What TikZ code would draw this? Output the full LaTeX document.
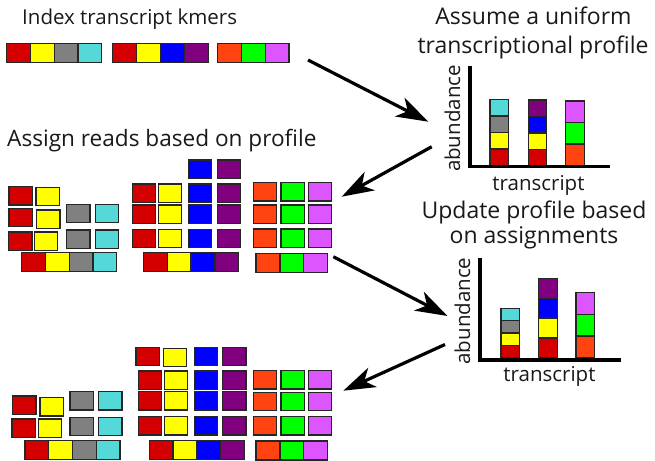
\documentclass[tikz,border=0pt]{standalone}
\usepackage{fontspec}
\setmainfont{Open Sans}
\usetikzlibrary{arrows.meta}

\definecolor{kred}{HTML}{D40000}
\definecolor{kyellow}{HTML}{FFFF00}
\definecolor{kgray}{HTML}{808080}
\definecolor{kcyan}{HTML}{55D8D8}
\definecolor{kblue}{HTML}{0000FF}
\definecolor{kpurple}{HTML}{800080}
\definecolor{korange}{HTML}{FF4411}
\definecolor{kgreen}{HTML}{00FF00}
\definecolor{kpink}{HTML}{DD55FF}

\tikzset{
  cellbox/.style={draw=black!85, line width=1.3pt},
  label/.style={font=\fontsize{20.5}{24}\selectfont, inner sep=0pt, text=black!90},
  heading/.style={font=\fontsize{23}{27}\selectfont, inner sep=0pt, text=black!90},
  axisline/.style={line width=3.5pt, black},
  flow/.style={line width=3.2pt, -{Stealth[length=32pt, width=21pt, inset=9pt]}},
}

% one free-standing read (top-left corner x, y; fill colour)
\newcommand\kcell[3]{\draw[cellbox, fill=#3] (#1,#2) rectangle ++(23.4,18.4);}
% a row of touching k-mer boxes (x0, y, box width, colours)
\newcommand\krow[4]{\foreach \c [count=\i from 0] in {#4}
  {\draw[cellbox, fill=\c] ({#1+\i*#3},#2) rectangle ++(#3,19);}}
% a stacked bar (x, bottom y, segment height, colours from the bottom up)
\newcommand\kbar[4]{\foreach \c [count=\i from 0] in {#4}
  {\draw[cellbox, fill=\c] (#1,{#2-\i*#3}) rectangle ++(18.5,{-#3});}}

\begin{document}
\begin{tikzpicture}[x=1pt, y=-1pt]
\useasboundingbox (0,0) rectangle (655,460);

% ---------- transcript k-mer index ----------
\node[label, anchor=base west] (title1) at (22,25) {Index transcript kmers};
\krow{6.7}{43.3}{23.75}{kred,kyellow,kgray,kcyan}
\krow{112.7}{43.3}{23.9}{kred,kyellow,kblue,kpurple}
\krow{217.7}{43.3}{23.8}{korange,kgreen,kpink}

% ---------- uniform profile ----------
\node[heading, anchor=base] (title2a) at (533.5,25) {Assume a uniform};
\node[heading, anchor=base] (title2b) at (533,53) {transcriptional profile};
\kbar{490}{165.7}{16.6}{kred,kyellow,kgray,kcyan}
\kbar{528.3}{165.7}{16.4}{kred,kyellow,kblue,kpurple}
\kbar{565.7}{165.7}{21.6}{korange,kgreen,kpink}
\draw[axisline] (470,66) |- (610,166.7);
\node[label, anchor=base, rotate=90] (ylab1) at (460,118.5) {abundance};
\node[label, anchor=base] (xlab1) at (538.5,190) {transcript};

% ---------- first read assignment ----------
\node[heading, font=\fontsize{22.6}{26}\selectfont, anchor=base west] (title3) at (7,146.7) {Assign reads based on profile};
\kcell{9}{186.7}{kred}    \kcell{36}{187.3}{kyellow}
\kcell{9}{208.3}{kred}    \kcell{36.7}{210}{kyellow}
\kcell{66.7}{204.3}{kgray} \kcell{95.3}{204.3}{kcyan}
\kcell{8.7}{232}{kred}    \kcell{34.3}{232}{kyellow}
\kcell{66.7}{230}{kgray}   \kcell{95.3}{230}{kcyan}
\krow{21.7}{252.7}{23.75}{kred,kyellow,kgray,kcyan}

\kcell{188.3}{160}{kblue} \kcell{217.3}{160}{kpurple}
\foreach \y in {184,205,229.3}{
  \kcell{132.3}{\y}{kred} \kcell{158.3}{\y}{kyellow}
  \kcell{188.3}{\y}{kblue} \kcell{217.3}{\y}{kpurple}}
\krow{143.3}{252.7}{23.85}{kred,kyellow,kblue,kpurple}

\foreach \y in {182.7,205,229}{
  \kcell{253.3}{\y}{korange} \kcell{281}{\y}{kgreen} \kcell{308.3}{\y}{kpink}}
\krow{256}{253.3}{23.9}{korange,kgreen,kpink}

% ---------- updated profile ----------
\node[heading, anchor=base] (title4a) at (534,218.3) {Update profile based};
\node[heading, anchor=base] (title4b) at (534,243.3) {on assignments};
\kbar{501}{357.7}{12.35}{kred,kyellow,kgray,kcyan}
\kbar{538.7}{357.7}{19.85}{kred,kyellow,kblue,kpurple}
\kbar{576}{357.7}{21.67}{korange,kgreen,kpink}
\draw[axisline] (480,258.3) |- (620.7,360);
\node[label, anchor=base, rotate=90] (ylab2) at (470,311) {abundance};
\node[label, anchor=base] (xlab2) at (549.5,381.7) {transcript};

% ---------- second read assignment ----------
\kcell{12.7}{396}{kred}   \kcell{40}{397.7}{kyellow}
\kcell{70}{391.7}{kgray}  \kcell{98.7}{391.7}{kcyan}
\kcell{12}{419}{kred}     \kcell{38.3}{419}{kyellow}
\kcell{70}{417.3}{kgray}  \kcell{98.7}{417.3}{kcyan}
\krow{25}{440.7}{23.75}{kred,kyellow,kgray,kcyan}

\kcell{136}{347.3}{kred}  \kcell{163.3}{348.3}{kyellow}
\kcell{194.3}{347.3}{kblue} \kcell{222.7}{347.3}{kpurple}
\foreach \y in {371,391.7,416.7}{
  \kcell{138.3}{\y}{kred} \kcell{164.3}{\y}{kyellow}
  \kcell{194.3}{\y}{kblue} \kcell{222.7}{\y}{kpurple}}
\krow{149.3}{440.7}{23.75}{kred,kyellow,kblue,kpurple}

\foreach \y in {370.7,392.3,416.7}{
  \kcell{253.3}{\y}{korange} \kcell{281}{\y}{kgreen} \kcell{308.3}{\y}{kpink}}
\krow{256}{441}{23.9}{korange,kgreen,kpink}

% ---------- flow arrows ----------
\coordinate (a1s) at (308,60);    \coordinate (a1e) at (428.3,121.7);
\coordinate (a2s) at (431.7,146.7); \coordinate (a2e) at (341.7,196.7);
\coordinate (a3s) at (333.3,256.7); \coordinate (a3e) at (447.5,316);
\coordinate (a4s) at (445,344.5); \coordinate (a4e) at (343.3,390.7);
\draw[flow] (a1s) -- (a1e);
\draw[flow] (a2s) -- (a2e);
\draw[flow] (a3s) -- (a3e);
\draw[flow] (a4s) -- (a4e);
\end{tikzpicture}
\end{document}
